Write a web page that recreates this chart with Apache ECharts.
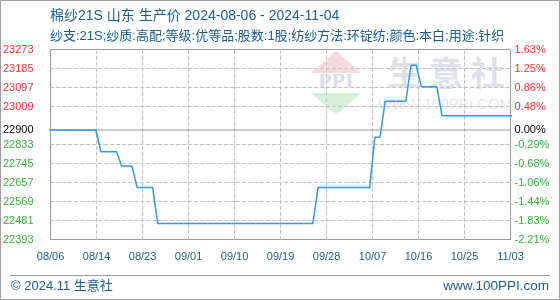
<!DOCTYPE html>
<html><head><meta charset="utf-8">
<script src="https://cdn.jsdelivr.net/npm/echarts@6/dist/echarts.min.js"></script>
<style>html,body{margin:0;padding:0;background:#fff}#c{width:560px;height:300px}</style>
</head><body><div id="c"></div>
<script>
// ---- data ----
const dates = [
 '2024-08-06','2024-08-07','2024-08-08','2024-08-09','2024-08-10','2024-08-11','2024-08-12','2024-08-13','2024-08-14','2024-08-15',
 '2024-08-16','2024-08-17','2024-08-18','2024-08-19','2024-08-20','2024-08-21','2024-08-22','2024-08-23','2024-08-24','2024-08-25',
 '2024-08-26','2024-08-27','2024-08-28','2024-08-29','2024-08-30','2024-08-31',
 '2024-09-01','2024-09-02','2024-09-03','2024-09-04','2024-09-05','2024-09-06','2024-09-07','2024-09-08','2024-09-09','2024-09-10',
 '2024-09-11','2024-09-12','2024-09-13','2024-09-14','2024-09-15','2024-09-16','2024-09-17','2024-09-18','2024-09-19','2024-09-20',
 '2024-09-21','2024-09-22','2024-09-23','2024-09-24','2024-09-25','2024-09-26','2024-09-27','2024-09-28','2024-09-29','2024-09-30',
 '2024-10-01','2024-10-02','2024-10-03','2024-10-04','2024-10-05','2024-10-06','2024-10-07','2024-10-08','2024-10-09','2024-10-10',
 '2024-10-11','2024-10-12','2024-10-13','2024-10-14','2024-10-15','2024-10-16','2024-10-17','2024-10-18','2024-10-19','2024-10-20',
 '2024-10-21','2024-10-22','2024-10-23','2024-10-24','2024-10-25','2024-10-26','2024-10-27','2024-10-28','2024-10-29','2024-10-30',
 '2024-10-31','2024-11-01','2024-11-02','2024-11-03','2024-11-04'
];
const prices = [
 22900,22900,22900,22900,22900,22900,22900,22900,22900,22900,
 22800,22800,22800,22800,22733.33,22733.33,22733.33,22633.33,22633.33,22633.33,
 22633.33,22466.67,22466.67,22466.67,22466.67,22466.67,
 22466.67,22466.67,22466.67,22466.67,22466.67,22466.67,22466.67,22466.67,22466.67,22466.67,
 22466.67,22466.67,22466.67,22466.67,22466.67,22466.67,22466.67,22466.67,22466.67,22466.67,
 22466.67,22466.67,22466.67,22466.67,22466.67,22466.67,22633.33,22633.33,22633.33,22633.33,
 22633.33,22633.33,22633.33,22633.33,22633.33,22633.33,22633.33,22866.67,22866.67,23033.33,
 23033.33,23033.33,23033.33,23033.33,23200,23200,23100,23100,23100,23100,
 22966.67,22966.67,22966.67,22966.67,22966.67,22966.67,22966.67,22966.67,22966.67,22966.67,
 22966.67,22966.67,22966.67,22966.67,22966.67
];
const basePrice = 22900;
const yTickValues = [22393,22481,22569,22657,22745,22833,22900,23009,23097,23185,23273];
const yTickLabels = ['22393','22481','22569','22657','22745','22833','22900','23009','23097','23185','23273'];
const pctTickLabels = ['-2.21%','-1.83%','-1.44%','-1.06%','-0.68%','-0.29%','0.00%','0.48%','0.86%','1.25%','1.63%'];
const xTickLabels = ['08/06','08/14','08/23','09/01','09/10','09/19','09/28','10/07','10/16','10/25','11/03'];

// ---- layout helpers ----
const DAY = 86400000;
const xMin = Date.UTC(2024,7,6,6);
const xMax = xMin + 89*DAY;
const yMin = yTickValues[0], yMax = yTickValues[yTickValues.length - 1];
const xTickValues = xTickLabels.map((_, k) => xMin + k*(xMax - xMin)/10);
const seriesData = dates.map((d, i) => [Date.parse(d), prices[i]]);

const blue = '#1a5c8e';
const red = '#ff3333';
const green = '#33b533';
const FONT = '"Liberation Sans","Noto Sans CJK SC",sans-serif';
function tickColor(v){ return Math.abs(v-basePrice) < 0.5 ? '#000' : (v > basePrice ? red : green); }
function nearest(arr, v){ let b=0; for(let i=0;i<arr.length;i++){ if(Math.abs(arr[i]-v)<Math.abs(arr[b]-v)) b=i; } return b; }

// grid lines drawn as plain line series through the axes' scales
const gridSeries = [];
const underStyle = { color: '#ececec', width: 1, type: 'solid' };
const dashStyle = { color: '#b8b8b8', width: 1, type: 'dashed', dashOffset: 0 };
function addGrid(data){
  gridSeries.push({ type: 'line', silent: true, symbol: 'none', z: 1, data: data, lineStyle: underStyle });
  gridSeries.push({ type: 'line', silent: true, symbol: 'none', z: 1, data: data, lineStyle: Object.assign({}, dashStyle, { type: [3, 3] }) });
}
yTickValues.forEach((v, i) => {
  if (i === 0 || i === yTickValues.length - 1 || v === basePrice) return;
  addGrid([[xMin, v], [xMax, v]]);
});
xTickValues.forEach((v, i) => {
  if (i === 0 || i === xTickValues.length - 1) return;
  addGrid([[v, yMin], [v, yMax]]);
});

const chart = echarts.init(document.getElementById('c'), null, {renderer:'canvas'});
chart.setOption({
  animation: false,
  backgroundColor: '#fff',
  grid: { left: 50.5, right: 49.5, top: 49.5, bottom: 60.5, show: false },
  xAxis: {
    type: 'value', min: xMin, max: xMax,
    axisLine: { show: false },
    axisTick: { show: false, customValues: xTickValues },
    axisLabel: { customValues: xTickValues, formatter: v => xTickLabels[nearest(xTickValues, v)], color: blue, fontSize: 11, fontFamily: FONT, margin: 12 },
    splitLine: { show: false }
  },
  yAxis: [{
    type: 'value', min: yMin, max: yMax, position: 'left',
    axisLine: { show: true, lineStyle: { color: '#999' } },
    axisTick: { show: false, customValues: yTickValues },
    axisLabel: { customValues: yTickValues, formatter: v => yTickLabels[nearest(yTickValues, v)], color: v => tickColor(v), fontSize: 11, fontFamily: FONT, margin: 17 },
    splitLine: { show: false }
  },{
    type: 'value', min: yMin, max: yMax, position: 'right',
    axisLine: { show: true, lineStyle: { color: '#999' } },
    axisTick: { show: false, customValues: yTickValues },
    axisLabel: { customValues: yTickValues, formatter: v => pctTickLabels[nearest(yTickValues, v)], color: v => tickColor(v), fontSize: 11, fontFamily: FONT, margin: 4 },
    splitLine: { show: false }
  }],
  series: gridSeries.concat([{
    name: 'base', type: 'line', data: [[xMin, basePrice], [xMax, basePrice]], symbol: 'none', silent: true,
    lineStyle: { color: '#999', width: 1 }, z: 2
  },{
    name: 'price', type: 'line', data: seriesData, symbol: 'none',
    lineStyle: { color: '#3399dd', width: 1.5 }, z: 3
  }]),
  graphic: [
    { type: 'rect', shape: { x: 0.5, y: 0.5, width: 559, height: 299 }, style: { fill: 'none', stroke: '#a0a0a0', lineWidth: 1 }, silent: true },
    { type: 'line', shape: { x1: 50.5, y1: 49.5, x2: 510.5, y2: 49.5 }, style: { stroke: '#999', lineWidth: 1 }, silent: true },
    { type: 'line', shape: { x1: 50.5, y1: 239.5, x2: 510.5, y2: 239.5 }, style: { stroke: '#999', lineWidth: 1 }, silent: true },
    { type: 'text', x: 50, y: 16, style: { text: '棉纱21S 山东 生产价 2024-08-06 - 2024-11-04', fill: blue, font: '14px ' + FONT, textVerticalAlign: 'middle' } },
    { type: 'text', x: 50, y: 36, style: { text: '纱支:21S;纱质:高配;等级:优等品;股数:1股;纺纱方法:环锭纺;颜色:本白;用途:针织', fill: blue, font: '13px ' + FONT, textVerticalAlign: 'middle' } },
    { type: 'line', shape: { x1: 10, y1: 275.5, x2: 550, y2: 275.5 }, style: { stroke: '#999', lineWidth: 1 }, silent: true },
    { type: 'text', x: 11, y: 286, style: { text: '© 2024.11 生意社', fill: blue, font: '13px ' + FONT, textVerticalAlign: 'middle' } },
    { type: 'text', x: 549, y: 286, style: { text: 'www.100PPI.com', fill: blue, font: '13.5px ' + FONT, textVerticalAlign: 'middle', textAlign: 'right' } },
    // watermark
    { type: 'polygon', z: -10, shape: { points: [[336,51],[361,73],[311,73]] }, style: { fill: '#f9dada' }, silent: true },
    { type: 'text', z: -10, x: 336, y: 82, style: { text: 'PPI', fill: '#d9deea', font: 'bold 22px "Liberation Serif",serif', textAlign: 'center', textVerticalAlign: 'middle' }, silent: true },
    { type: 'polygon', z: -10, shape: { points: [[311,93],[361,93],[336,115]] }, style: { fill: '#d8efd8' }, silent: true },
    { type: 'text', z: -10, x: 446, y: 73, style: { text: '生 意 社', fill: '#dde1ea', font: 'bold 34px "Noto Sans CJK SC",sans-serif', textAlign: 'center', textVerticalAlign: 'middle' }, silent: true },
    { type: 'text', z: -10, x: 445, y: 105, style: { text: 'WWW.100PPI.COM', fill: '#e6e6e6', font: '15px "Liberation Sans",sans-serif', textAlign: 'center', textVerticalAlign: 'middle' }, silent: true }
  ]
});
</script></body></html>
